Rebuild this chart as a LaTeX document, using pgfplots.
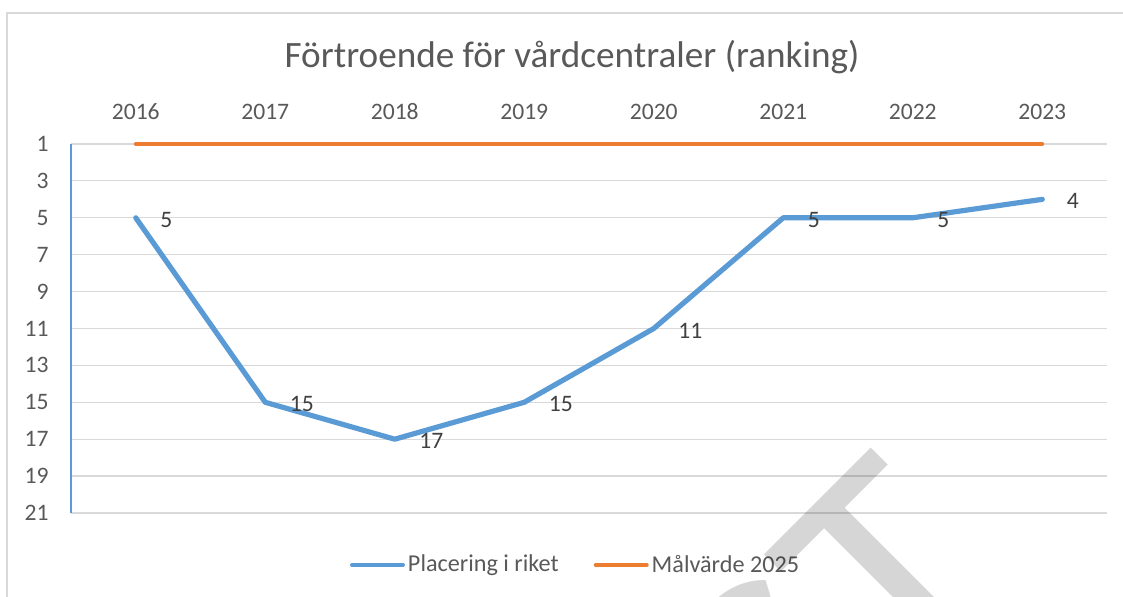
\documentclass[border=0pt]{standalone}
\usepackage{fontspec}
\setmainfont{Carlito}
\usepackage{pgfplots}
\pgfplotsset{compat=1.18}
\definecolor{cblue}{HTML}{5B9BD5}
\definecolor{corange}{HTML}{ED7D31}
\definecolor{cgrid}{HTML}{D9D9D9}
\definecolor{ctext}{HTML}{595959}
\definecolor{clabel}{HTML}{404040}
\begin{document}
\begin{tikzpicture}[x=1pt,y=1pt]
\useasboundingbox (0,0) rectangle (561.5,298.5);
\begin{scope}
\clip (0,0) rectangle (561.5,298.5);
\draw[cgrid, line width=0.6pt] (3.5,-1) -- (3.5,292) -- (562,292);
\node[text=ctext, font=\fontsize{18.6}{22}\selectfont] at (286,270) {Förtroende för vårdcentraler (ranking)};
\begin{axis}[
  at={(294.5pt,134.25pt)}, anchor=center,
  scale only axis, width=518pt, height=184.5pt,
  xmin=-0.5, xmax=7.5, ymin=1, ymax=21, y dir=reverse,
  xtick={0,...,7}, xticklabels={2016,2017,2018,2019,2020,2021,2022,2023},
  xticklabel pos=upper,
  ytick={1,3,...,21},
  axis line style={draw=none},
  major tick length=0pt,
  ymajorgrids, grid style={cgrid, line width=0.6pt},
  extra x ticks={-0.5}, extra x tick labels={},
  extra x tick style={xmajorgrids=true, major grid style={cblue, line width=0.6pt}},
  /pgf/number format/assume math mode=true,
  tick label style={font=\fontsize{11.8}{14}\selectfont, text=ctext},
  xticklabel style={anchor=center, yshift=16pt},
  yticklabel style={xshift=-7.7pt},
  clip=false,
  legend style={at={(0.4875,-0.141)}, anchor=center, draw=none, fill=none,
    legend columns=2, font=\fontsize{12.1}{14}\selectfont, text=ctext,
    /tikz/every even column/.append style={column sep=16pt},
    inner sep=0pt, nodes={inner sep=1.5pt}},
  legend image code/.code={\draw[#1, line width=2pt, line cap=round] (0pt,0pt) -- (25.5pt,0pt);},
]
\addplot[cblue, line width=2.6pt, line cap=round, line join=round,
  nodes near coords,
  nodes near coords style={anchor=west, inner sep=0pt, xshift=11pt, yshift=-1pt,
    font=\fontsize{11.8}{14}\selectfont, text=clabel}]
  coordinates {(0,5)(1,15)(2,17)(3,15)(4,11)(5,5)(6,5)(7,4)};
\addplot[corange, line width=2pt, line cap=round]
  coordinates {(0,1)(1,1)(2,1)(3,1)(4,1)(5,1)(6,1)(7,1)};
\legend{Placering i riket, Målvärde 2025}
\end{axis}
\node[rotate=45, anchor=north east, inner sep=0pt, text=black, text opacity=0.16,
  font=\fontsize{163}{163}\selectfont] at (436,77) {UTKAST};
\end{scope}
\end{tikzpicture}
\end{document}
